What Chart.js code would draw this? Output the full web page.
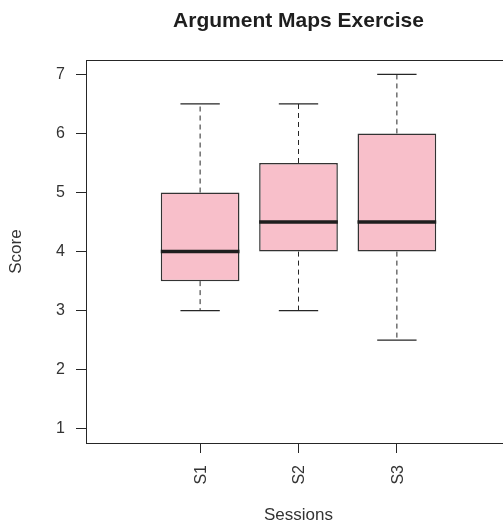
<!DOCTYPE html>
<html>
<head>
<meta charset="utf-8">
<title>Argument Maps Exercise</title>
<style>
  html, body { margin: 0; padding: 0; overflow: hidden; background: #ffffff; }
  canvas { display: block; }
</style>
<script src="https://cdn.jsdelivr.net/npm/chart.js@4.4.1/dist/chart.umd.min.js"></script>
</head>
<body>
<canvas id="chart" width="520" height="526"></canvas>
<script>
// Five-number summaries of the scores for each session
const sessions = ['S1', 'S2', 'S3'];
const mins     = [3,   3,   2.5];
const q1s      = [3.5, 4,   4];
const medians  = [4,   4.5, 4.5];
const q3s      = [5,   5.5, 6];
const maxs     = [6.5, 6.5, 7];
const scoreTicks = [1, 2, 3, 4, 5, 6, 7];

const FONT = 'Liberation Sans, Arial, Helvetica, sans-serif';
const INK = '#262626';
const BOX_FILL = '#F8BFCA';
const BOX_HALF = 0.4;   // half box width, in category units
const CAP_HALF = 0.2;   // half whisker-cap width, in category units

const positions = sessions.map((_, i) => i + 1);
const gap = x => ({ x, y: null });

// Whisker stems, caps and median bars as broken line segments
const whiskerPts = [], capPts = [], medianPts = [];
positions.forEach((x, i) => {
  whiskerPts.push({ x, y: q3s[i] }, { x, y: maxs[i] }, gap(x),
                  { x, y: q1s[i] }, { x, y: mins[i] }, gap(x));
  capPts.push({ x: x - CAP_HALF, y: maxs[i] }, { x: x + CAP_HALF, y: maxs[i] }, gap(x),
              { x: x - CAP_HALF, y: mins[i] }, { x: x + CAP_HALF, y: mins[i] }, gap(x));
  medianPts.push({ x: x - BOX_HALF, y: medians[i] }, { x: x + BOX_HALF, y: medians[i] }, gap(x));
});

// Box around the whole plotting region
const plotFrame = {
  id: 'plotFrame',
  afterDraw(chart) {
    const { ctx, chartArea: a } = chart;
    ctx.save();
    ctx.strokeStyle = INK;
    ctx.lineWidth = 1;
    ctx.strokeRect(Math.round(a.left) + 0.5, Math.round(a.top) + 0.5,
                   Math.round(a.right - a.left), Math.round(a.bottom - a.top));
    ctx.restore();
  }
};

const lineBase = { type: 'line', pointRadius: 0, pointHoverRadius: 0, spanGaps: false, fill: false, tension: 0 };

new Chart(document.getElementById('chart'), {
  type: 'bar',
  data: {
    datasets: [
      {
        label: 'IQR',
        data: positions.map((x, i) => ({ x, y: [q1s[i], q3s[i]] })),
        backgroundColor: BOX_FILL,
        borderColor: '#333333',
        borderWidth: 1.5,
        borderSkipped: false,
        barPercentage: 0.8,
        categoryPercentage: 1.0,
        order: 3
      },
      Object.assign({}, lineBase, {
        label: 'whiskers', data: whiskerPts,
        borderColor: INK, borderWidth: 1, borderDash: [5, 4], order: 2
      }),
      Object.assign({}, lineBase, {
        label: 'caps', data: capPts,
        borderColor: INK, borderWidth: 1.2, order: 2
      }),
      Object.assign({}, lineBase, {
        label: 'median', data: medianPts,
        borderColor: '#1e1e1e', borderWidth: 3.5, borderCapStyle: 'butt', order: 1
      })
    ]
  },
  options: {
    responsive: false,
    animation: false,
    events: [],
    layout: { padding: { left: 0, right: 9, top: 0, bottom: 0 } },
    plugins: {
      legend: { display: false },
      tooltip: { enabled: false },
      title: {
        display: true,
        text: 'Argument Maps Exercise',
        fullSize: false,
        color: '#1e1e1e',
        font: { family: FONT, size: 21, weight: 'bold' },
        padding: { top: 9, bottom: 26 }
      }
    },
    scales: {
      x: {
        type: 'linear',
        offset: false,
        min: -0.16,
        max: 4.16,
        afterBuildTicks: s => { s.ticks = positions.map(v => ({ value: v })); },
        afterFit: s => { s.height = 83; },
        ticks: {
          callback: (v, i) => sessions[i],
          minRotation: 90, maxRotation: 90,
          autoSkip: false,
          padding: 12,
          labelOffset: 1.5,
          color: '#333',
          font: { family: FONT, size: 16 }
        },
        grid: { offset: false, drawOnChartArea: false, drawTicks: true, tickLength: 10, color: INK },
        border: { display: false },
        title: {
          display: true, text: 'Sessions', color: '#333',
          font: { family: FONT, size: 17 }, padding: { top: 0, bottom: 0 }
        }
      },
      y: {
        type: 'linear',
        min: 0.76,
        max: 7.24,
        afterBuildTicks: s => { s.ticks = scoreTicks.map(v => ({ value: v })); },
        afterFit: s => { s.width = 86; },
        ticks: {
          padding: 11,
          color: '#333',
          font: { family: FONT, size: 16 }
        },
        grid: { drawOnChartArea: false, drawTicks: true, tickLength: 10, color: INK },
        border: { display: false },
        title: {
          display: true, text: 'Score', color: '#333',
          font: { family: FONT, size: 17 }, padding: { top: 6, bottom: 0 }
        }
      }
    }
  },
  plugins: [plotFrame]
});
</script>
</body>
</html>
